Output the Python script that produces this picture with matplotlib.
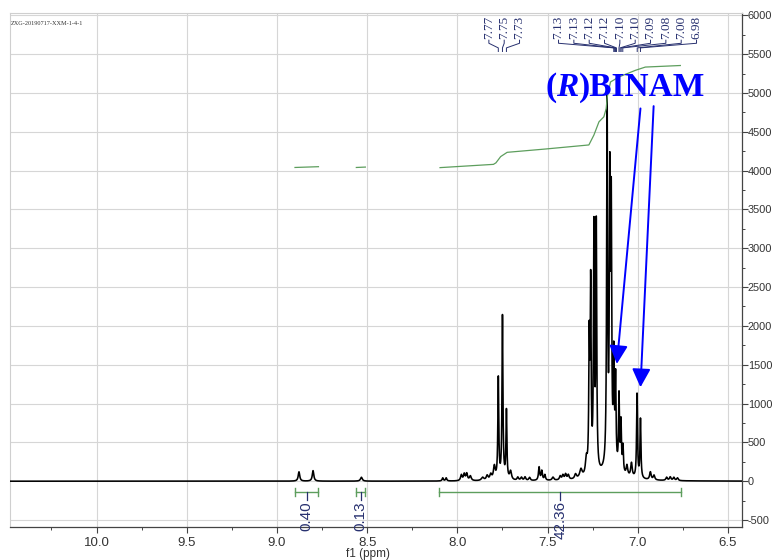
"""1H NMR spectrum of (R)-BINAM with integrals and peak picking."""

import matplotlib.pyplot as plt
import numpy as np
from matplotlib.offsetbox import AnnotationBbox, HPacker, TextArea
from matplotlib.transforms import blended_transform_factory

# peak table: shift (ppm), height, half width (ppm)
peak_ppm = [8.878, 8.800, 8.532,
            8.081, 8.062, 7.978, 7.962, 7.948, 7.928, 7.860, 7.835, 7.815, 7.795,
            7.773, 7.750, 7.728, 7.705,
            7.665, 7.645, 7.625, 7.600, 7.547, 7.532, 7.515, 7.470, 7.430,
            7.415, 7.400, 7.385, 7.345, 7.315,
            7.285, 7.269, 7.261, 7.243, 7.230, 7.170, 7.155, 7.147,
            7.133, 7.123, 7.104, 7.093, 7.082, 7.060, 7.035, 7.004, 6.985,
            6.930, 6.910, 6.840, 6.820, 6.800, 6.780,
            7.150]
peak_height = [120, 135, 50,
               40, 40, 75, 85, 90, 60, 40, 60, 70, 170,
               1300, 2100, 880, 110,
               40, 40, 45, 40, 170, 120, 70, 40, 50,
               60, 70, 60, 60, 110,
               200, 1650, 2350, 3100, 3150, 4750, 3500, 3200,
               1350, 1100, 950, 620, 330, 130, 180, 1080, 760,
               100, 60, 40, 45, 40, 35,
               110]
peak_hwhm = [0.005, 0.005, 0.006,
             0.004, 0.004, 0.005, 0.005, 0.005, 0.006, 0.008, 0.006, 0.006, 0.006,
             0.003, 0.003, 0.003, 0.006,
             0.005, 0.005, 0.005, 0.005, 0.004, 0.004, 0.004, 0.006, 0.005,
             0.005, 0.005, 0.005, 0.006, 0.008,
             0.006, 0.003, 0.003, 0.003, 0.003, 0.003, 0.003, 0.003,
             0.003, 0.003, 0.003, 0.003, 0.003, 0.005, 0.005, 0.003, 0.003,
             0.005, 0.005, 0.005, 0.005, 0.005, 0.005,
             0.07]

# integral curve (ppm, value)
integral_segments = [
    ([8.90, 8.77], [4040, 4050]),
    ([8.56, 8.51], [4040, 4045]),
    ([8.096, 7.80, 7.786, 7.76, 7.724, 7.51, 7.271, 7.243, 7.215, 7.188, 7.175,
      7.169, 7.151, 7.105, 7.013, 6.958, 6.764],
     [4038, 4080, 4100, 4180, 4235, 4278, 4330, 4458, 4628, 4692, 4799,
      4949, 5141, 5205, 5291, 5333, 5353]),
]

# integration regions
int_from = [8.90, 8.56, 8.10]
int_to = [8.77, 8.51, 6.76]
int_labels = ["0.40", "0.13", "42.36"]

# peak-picking groups
pick_groups = [
    ([7.773, 7.750, 7.728], ["7.77", "7.75", "7.73"]),
    ([7.133, 7.128, 7.123, 7.118, 7.104, 7.098, 7.092, 7.083, 7.003, 6.985],
     ["7.13", "7.13", "7.12", "7.12", "7.10", "7.10", "7.09", "7.08", "7.00", "6.98"]),
]

# arrows from the label to the BINAM signals: (tail ppm, tail y, tip ppm, tip y)
arrows = [(6.985, 4800, 7.116, 1510), (6.912, 4830, 6.985, 1210)]

NAVY = "#27306f"
GREEN = "#5d9e5d"


def main():
    plt.rcParams["font.family"] = ["Liberation Sans", "DejaVu Sans"]
    plt.rcParams["axes.unicode_minus"] = False

    x = np.linspace(10.48, 6.42, 24000)
    y = np.zeros_like(x)
    for p, h, w in zip(peak_ppm, peak_height, peak_hwhm):
        y += h / (1 + ((x - p) / w) ** 2)

    fig = plt.figure(figsize=(7.73, 5.60), dpi=100)
    ax = fig.add_axes([0.0129, 0.0589, 0.9475, 0.918])

    ax.plot(x, y, color="black", lw=1.15, zorder=3)
    for px, py in integral_segments:
        ax.plot(px, py, color=GREEN, lw=0.9, zorder=3)

    # integration bars below baseline
    for a, b, lab in zip(int_from, int_to, int_labels):
        ax.plot([a, b], [-140, -140], color=GREEN, lw=1, zorder=3)
        for e in (a, b):
            ax.plot([e, e], [-90, -190], color=GREEN, lw=1, zorder=3)
        c = (a + b) / 2
        ax.plot([c, c], [-140, -245], color=NAVY, lw=0.9, zorder=3)
        ax.text(c, -255, lab, rotation=90, ha="center", va="top",
                fontsize=11, color=NAVY, zorder=4)

    # peak labels with connecting brackets
    tr = blended_transform_factory(ax.transData, ax.transAxes)
    spacing = 0.085
    shift = [-0.01, -0.03]
    for (pos, labs), sh in zip(pick_groups, shift):
        n = len(pos)
        ctr = np.mean(pos) + sh
        lx = ctr + (np.arange(n) - (n - 1) / 2) * -spacing
        for xl, xp, lab in zip(lx, pos, labs):
            ax.text(xl, 0.949, lab, transform=tr, rotation=90, ha="center",
                    va="bottom", fontsize=9.5, color=NAVY,
                    family=["Liberation Serif", "DejaVu Serif"])
            ax.plot([xl, xl, xp, xp], [0.947, 0.941, 0.932, 0.925],
                    transform=tr, color=NAVY, lw=0.7, clip_on=False)

    ax.text(10.475, 0.985, "ZXG-20190717-XXM-1-4-1", transform=tr, fontsize=4.5,
            va="top", ha="left", family=["Liberation Serif", "DejaVu Serif"],
            color="#333333")

    # (R)BINAM label
    serif = "Liberation Serif"
    parts = [TextArea("(", textprops=dict(color="blue", fontsize=24, fontweight="bold", family=serif)),
             TextArea("R", textprops=dict(color="blue", fontsize=24, fontweight="bold",
                                          style="italic", family=serif)),
             TextArea(")BINAM", textprops=dict(color="blue", fontsize=24, fontweight="bold", family=serif))]
    box = HPacker(children=parts, align="baseline", pad=0, sep=0)
    ab = AnnotationBbox(box, (7.07, 5070), frameon=False, zorder=6)
    ax.add_artist(ab)

    for tx, ty, hx, hy in arrows:
        ax.annotate("", xy=(hx, hy), xytext=(tx, ty),
                    arrowprops=dict(arrowstyle="-|>,head_length=0.8,head_width=0.4",
                                    mutation_scale=14, lw=1.4, color="blue",
                                    shrinkA=0, shrinkB=0), zorder=5)

    ax.set_xlim(10.48, 6.42)
    ax.set_ylim(-590, 6030)
    ax.set_xticks(np.arange(10.0, 6.4, -0.5))
    ax.set_xticks(np.arange(10.25, 6.4, -0.25), minor=True)
    ax.set_xticklabels([f"{v:.1f}" for v in np.arange(10.0, 6.4, -0.5)])
    ax.set_yticks(np.arange(-500, 6001, 500))
    ax.set_yticks(np.arange(-500, 6001, 250), minor=True)
    ax.yaxis.tick_right()
    ax.tick_params(axis="both", which="major", color="#444444",
                   labelcolor="#333333", length=4, width=0.8)
    ax.tick_params(axis="both", which="minor", color="#444444", length=2.5, width=0.7)
    ax.tick_params(axis="x", pad=3, labelsize=9.5)
    ax.tick_params(axis="y", pad=0, labelsize=7.9)
    ax.set_xlabel("f1 (ppm)", fontsize=8.5, color="#333333")
    ax.xaxis.set_label_coords(0.4885, -0.04)

    ax.grid(which="major", color="#d6d6d6", lw=0.8)
    ax.set_axisbelow(True)
    for side in ("left", "top"):
        ax.spines[side].set_color("#cfcfcf")
    for side in ("bottom", "right"):
        ax.spines[side].set_color("#444444")
        ax.spines[side].set_linewidth(0.9)

    fig.savefig("out.png", dpi=100)


if __name__ == "__main__":
    main()
